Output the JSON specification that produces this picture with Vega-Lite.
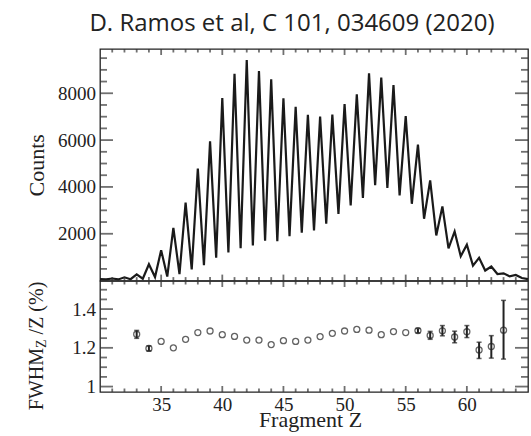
{
  "$schema": "https://vega.github.io/schema/vega-lite/v6.json",
  "padding": {"left": 24, "top": 12, "right": 2, "bottom": 2},
  "title": {"text": "D. Ramos et al, C 101, 034609 (2020)", "font": "Open Sans", "fontSize": 24, "fontWeight": "normal", "color": "#222", "anchor": "middle", "offset": 12, "dx": 13},
  "datasets": {
    "hist": [
      {"Z": 30.0, "C": 60}, {"Z": 30.5, "C": 50}, {"Z": 31.0, "C": 90}, {"Z": 31.5, "C": 50},
      {"Z": 32.0, "C": 140}, {"Z": 32.5, "C": 60}, {"Z": 33.0, "C": 270}, {"Z": 33.5, "C": 80},
      {"Z": 34.0, "C": 700}, {"Z": 34.5, "C": 150}, {"Z": 35.0, "C": 1300}, {"Z": 35.5, "C": 170},
      {"Z": 36.0, "C": 2250}, {"Z": 36.5, "C": 280}, {"Z": 37.0, "C": 3330}, {"Z": 37.5, "C": 480},
      {"Z": 38.0, "C": 4780}, {"Z": 38.5, "C": 660}, {"Z": 39.0, "C": 5950}, {"Z": 39.5, "C": 980},
      {"Z": 40.0, "C": 7800}, {"Z": 40.5, "C": 1200}, {"Z": 41.0, "C": 8830}, {"Z": 41.5, "C": 1380},
      {"Z": 42.0, "C": 9420}, {"Z": 42.5, "C": 1500}, {"Z": 43.0, "C": 8950}, {"Z": 43.5, "C": 1700},
      {"Z": 44.0, "C": 8600}, {"Z": 44.5, "C": 1680}, {"Z": 45.0, "C": 7790}, {"Z": 45.5, "C": 1900},
      {"Z": 46.0, "C": 7420}, {"Z": 46.5, "C": 2050}, {"Z": 47.0, "C": 7080}, {"Z": 47.5, "C": 2140},
      {"Z": 48.0, "C": 7000}, {"Z": 48.5, "C": 2430}, {"Z": 49.0, "C": 7090}, {"Z": 49.5, "C": 2850},
      {"Z": 50.0, "C": 7540}, {"Z": 50.5, "C": 3210}, {"Z": 51.0, "C": 7950}, {"Z": 51.5, "C": 3530},
      {"Z": 52.0, "C": 8850}, {"Z": 52.5, "C": 4070}, {"Z": 53.0, "C": 8670}, {"Z": 53.5, "C": 3960},
      {"Z": 54.0, "C": 8350}, {"Z": 54.5, "C": 3640}, {"Z": 55.0, "C": 7030}, {"Z": 55.5, "C": 3280},
      {"Z": 56.0, "C": 5810}, {"Z": 56.5, "C": 2640}, {"Z": 57.0, "C": 4280}, {"Z": 57.5, "C": 1930},
      {"Z": 58.0, "C": 3170}, {"Z": 58.5, "C": 1380}, {"Z": 59.0, "C": 2100}, {"Z": 59.5, "C": 1040},
      {"Z": 60.0, "C": 1530}, {"Z": 60.5, "C": 640}, {"Z": 61.0, "C": 970}, {"Z": 61.5, "C": 430},
      {"Z": 62.0, "C": 600}, {"Z": 62.5, "C": 280}, {"Z": 63.0, "C": 310}, {"Z": 63.5, "C": 180},
      {"Z": 64.0, "C": 240}, {"Z": 64.5, "C": 110}, {"Z": 65.0, "C": 60}
    ],
    "fw": [
      {"Z": 33, "r": 1.270, "lo": 1.249, "hi": 1.290},
      {"Z": 34, "r": 1.197, "lo": 1.184, "hi": 1.210},
      {"Z": 35, "r": 1.233, "lo": null, "hi": null},
      {"Z": 36, "r": 1.200, "lo": null, "hi": null},
      {"Z": 37, "r": 1.244, "lo": null, "hi": null},
      {"Z": 38, "r": 1.279, "lo": null, "hi": null},
      {"Z": 39, "r": 1.287, "lo": null, "hi": null},
      {"Z": 40, "r": 1.268, "lo": null, "hi": null},
      {"Z": 41, "r": 1.259, "lo": null, "hi": null},
      {"Z": 42, "r": 1.240, "lo": null, "hi": null},
      {"Z": 43, "r": 1.240, "lo": null, "hi": null},
      {"Z": 44, "r": 1.217, "lo": null, "hi": null},
      {"Z": 45, "r": 1.237, "lo": null, "hi": null},
      {"Z": 46, "r": 1.233, "lo": null, "hi": null},
      {"Z": 47, "r": 1.240, "lo": null, "hi": null},
      {"Z": 48, "r": 1.258, "lo": null, "hi": null},
      {"Z": 49, "r": 1.275, "lo": null, "hi": null},
      {"Z": 50, "r": 1.287, "lo": null, "hi": null},
      {"Z": 51, "r": 1.295, "lo": null, "hi": null},
      {"Z": 52, "r": 1.291, "lo": null, "hi": null},
      {"Z": 53, "r": 1.268, "lo": null, "hi": null},
      {"Z": 54, "r": 1.284, "lo": null, "hi": null},
      {"Z": 55, "r": 1.279, "lo": null, "hi": null},
      {"Z": 56, "r": 1.289, "lo": 1.277, "hi": 1.300},
      {"Z": 57, "r": 1.264, "lo": 1.244, "hi": 1.285},
      {"Z": 58, "r": 1.288, "lo": 1.262, "hi": 1.315},
      {"Z": 59, "r": 1.256, "lo": 1.226, "hi": 1.286},
      {"Z": 60, "r": 1.283, "lo": 1.253, "hi": 1.315},
      {"Z": 61, "r": 1.189, "lo": 1.145, "hi": 1.229},
      {"Z": 62, "r": 1.207, "lo": 1.147, "hi": 1.263},
      {"Z": 63, "r": 1.291, "lo": 1.142, "hi": 1.445}
    ],
    "xMaj": [{"v": 35}, {"v": 40}, {"v": 45}, {"v": 50}, {"v": 55}, {"v": 60}],
    "xMin": [{"v": 31}, {"v": 32}, {"v": 33}, {"v": 34}, {"v": 36}, {"v": 37}, {"v": 38}, {"v": 39}, {"v": 41}, {"v": 42}, {"v": 43}, {"v": 44}, {"v": 46}, {"v": 47}, {"v": 48}, {"v": 49}, {"v": 51}, {"v": 52}, {"v": 53}, {"v": 54}, {"v": 56}, {"v": 57}, {"v": 58}, {"v": 59}, {"v": 61}, {"v": 62}, {"v": 63}, {"v": 64}],
    "cMaj": [{"v": 2000}, {"v": 4000}, {"v": 6000}, {"v": 8000}],
    "cMin": [{"v": 500}, {"v": 1000}, {"v": 1500}, {"v": 2500}, {"v": 3000}, {"v": 3500}, {"v": 4500}, {"v": 5000}, {"v": 5500}, {"v": 6500}, {"v": 7000}, {"v": 7500}, {"v": 8500}, {"v": 9000}, {"v": 9500}],
    "rMaj": [{"v": 1}, {"v": 1.2}, {"v": 1.4}],
    "rMin": [{"v": 1.05}, {"v": 1.1}, {"v": 1.15}, {"v": 1.25}, {"v": 1.3}, {"v": 1.35}, {"v": 1.45}, {"v": 1.5}]
  },
  "vconcat": [
    {
      "width": 428,
      "height": 231.6,
      "resolve": {"axis": {"x": "independent", "y": "independent"}},
      "layer": [
        {
          "data": {"name": "hist"},
          "mark": {"type": "line", "color": "#1a1a1a", "strokeWidth": 2.2},
          "encoding": {
            "x": {"field": "Z", "type": "quantitative", "scale": {"domain": [30, 65], "nice": false, "zero": false},
                  "axis": {"orient": "bottom", "values": [35, 40, 45, 50, 55, 60], "labels": false, "title": null}},
            "y": {"field": "C", "type": "quantitative", "scale": {"domain": [0, 9890], "nice": false, "zero": false},
                  "axis": {"orient": "left", "values": [2000, 4000, 6000, 8000], "format": "d", "labelPadding": 4.4, "title": "Counts", "titleFontSize": 22, "titleX": -56.4, "titleBaseline": "alphabetic"}}
          }
        },
        {
          "data": {"name": "cMaj"},
          "mark": {"type": "tick", "orient": "horizontal", "size": 13, "thickness": 1.8, "color": "#333", "xOffset": 6.5},
          "encoding": {
            "x": {"datum": 30, "type": "quantitative", "scale": {"domain": [30, 65], "nice": false, "zero": false}, "axis": null},
            "y": {"field": "v", "type": "quantitative", "scale": {"domain": [0, 9890], "nice": false, "zero": false}, "axis": null}
          }
        },
        {
          "data": {"name": "cMaj"},
          "mark": {"type": "tick", "orient": "horizontal", "size": 13, "thickness": 1.8, "color": "#333", "xOffset": -6.5},
          "encoding": {
            "x": {"datum": 65, "type": "quantitative", "scale": {"domain": [30, 65], "nice": false, "zero": false}, "axis": null},
            "y": {"field": "v", "type": "quantitative", "scale": {"domain": [0, 9890], "nice": false, "zero": false}, "axis": null}
          }
        },
        {
          "data": {"name": "cMin"},
          "mark": {"type": "tick", "orient": "horizontal", "size": 7, "thickness": 1.8, "color": "#333", "xOffset": 3.5},
          "encoding": {
            "x": {"datum": 30, "type": "quantitative", "scale": {"domain": [30, 65], "nice": false, "zero": false}, "axis": null},
            "y": {"field": "v", "type": "quantitative", "scale": {"domain": [0, 9890], "nice": false, "zero": false}, "axis": null}
          }
        },
        {
          "data": {"name": "cMin"},
          "mark": {"type": "tick", "orient": "horizontal", "size": 7, "thickness": 1.8, "color": "#333", "xOffset": -3.5},
          "encoding": {
            "x": {"datum": 65, "type": "quantitative", "scale": {"domain": [30, 65], "nice": false, "zero": false}, "axis": null},
            "y": {"field": "v", "type": "quantitative", "scale": {"domain": [0, 9890], "nice": false, "zero": false}, "axis": null}
          }
        },
        {
          "data": {"name": "xMaj"},
          "mark": {"type": "tick", "orient": "vertical", "size": 6, "thickness": 1.8, "color": "#333", "yOffset": -3},
          "encoding": {
            "x": {"field": "v", "type": "quantitative", "scale": {"domain": [30, 65], "nice": false, "zero": false}, "axis": null},
            "y": {"datum": 0, "type": "quantitative", "scale": {"domain": [0, 9890], "nice": false, "zero": false}, "axis": null}
          }
        },
        {
          "data": {"name": "xMaj"},
          "mark": {"type": "tick", "orient": "vertical", "size": 6, "thickness": 1.8, "color": "#333", "yOffset": 3},
          "encoding": {
            "x": {"field": "v", "type": "quantitative", "scale": {"domain": [30, 65], "nice": false, "zero": false}, "axis": null},
            "y": {"datum": 9890, "type": "quantitative", "scale": {"domain": [0, 9890], "nice": false, "zero": false}, "axis": null}
          }
        },
        {
          "data": {"name": "xMin"},
          "mark": {"type": "tick", "orient": "vertical", "size": 3.5, "thickness": 1.8, "color": "#333", "yOffset": -1.75},
          "encoding": {
            "x": {"field": "v", "type": "quantitative", "scale": {"domain": [30, 65], "nice": false, "zero": false}, "axis": null},
            "y": {"datum": 0, "type": "quantitative", "scale": {"domain": [0, 9890], "nice": false, "zero": false}, "axis": null}
          }
        },
        {
          "data": {"name": "xMin"},
          "mark": {"type": "tick", "orient": "vertical", "size": 3.5, "thickness": 1.8, "color": "#333", "yOffset": 1.75},
          "encoding": {
            "x": {"field": "v", "type": "quantitative", "scale": {"domain": [30, 65], "nice": false, "zero": false}, "axis": null},
            "y": {"datum": 9890, "type": "quantitative", "scale": {"domain": [0, 9890], "nice": false, "zero": false}, "axis": null}
          }
        }
      ]
    },
    {
      "width": 428,
      "height": 111,
      "resolve": {"axis": {"x": "independent", "y": "independent"}},
      "layer": [
        {
          "data": {"name": "fw"},
          "mark": {"type": "point", "shape": "circle", "filled": false, "size": 36, "stroke": "#222", "strokeWidth": 1.3},
          "encoding": {
            "x": {"field": "Z", "type": "quantitative", "scale": {"domain": [30, 65], "nice": false, "zero": false},
                  "axis": {"orient": "bottom", "values": [35, 40, 45, 50, 55, 60], "labelPadding": 3.8, "title": "Fragment Z", "titleFontSize": 22, "titleX": 210, "titleY": 34.7, "titleBaseline": "alphabetic"}},
            "y": {"field": "r", "type": "quantitative", "scale": {"domain": [0.972, 1.545], "nice": false, "zero": false},
                  "axis": {"orient": "left", "values": [1, 1.2, 1.4], "format": "~g", "labelPadding": 4.4, "title": "FWHM", "titleFontSize": 20, "titleX": -57.7, "titleY": 128.7, "titleAlign": "left", "titleBaseline": "alphabetic", "titleAngle": 270}}
          }
        },
        {
          "data": {"name": "fw"},
          "transform": [{"filter": "datum.lo != null"}],
          "mark": {"type": "errorbar", "ticks": {"size": 5, "thickness": 1.5}, "thickness": 2, "color": "#222"},
          "encoding": {
            "x": {"field": "Z", "type": "quantitative", "scale": {"domain": [30, 65], "nice": false, "zero": false}, "axis": null},
            "y": {"field": "lo", "type": "quantitative", "scale": {"domain": [0.972, 1.545], "nice": false, "zero": false}, "axis": null},
            "y2": {"field": "hi"}
          }
        },
        {
          "data": {"name": "rMaj"},
          "mark": {"type": "tick", "orient": "horizontal", "size": 13, "thickness": 1.8, "color": "#333", "xOffset": 6.5},
          "encoding": {
            "x": {"datum": 30, "type": "quantitative", "scale": {"domain": [30, 65], "nice": false, "zero": false}, "axis": null},
            "y": {"field": "v", "type": "quantitative", "scale": {"domain": [0.972, 1.545], "nice": false, "zero": false}, "axis": null}
          }
        },
        {
          "data": {"name": "rMaj"},
          "mark": {"type": "tick", "orient": "horizontal", "size": 13, "thickness": 1.8, "color": "#333", "xOffset": -6.5},
          "encoding": {
            "x": {"datum": 65, "type": "quantitative", "scale": {"domain": [30, 65], "nice": false, "zero": false}, "axis": null},
            "y": {"field": "v", "type": "quantitative", "scale": {"domain": [0.972, 1.545], "nice": false, "zero": false}, "axis": null}
          }
        },
        {
          "data": {"name": "rMin"},
          "mark": {"type": "tick", "orient": "horizontal", "size": 7, "thickness": 1.8, "color": "#333", "xOffset": 3.5},
          "encoding": {
            "x": {"datum": 30, "type": "quantitative", "scale": {"domain": [30, 65], "nice": false, "zero": false}, "axis": null},
            "y": {"field": "v", "type": "quantitative", "scale": {"domain": [0.972, 1.545], "nice": false, "zero": false},
                  "axis": {"orient": "left", "values": [], "labels": false, "title": "Z", "titleFontSize": 14, "titleX": -54.2, "titleY": 66.5, "titleAlign": "left", "titleBaseline": "alphabetic", "titleAngle": 270}}
          }
        },
        {
          "data": {"name": "rMin"},
          "mark": {"type": "tick", "orient": "horizontal", "size": 7, "thickness": 1.8, "color": "#333", "xOffset": -3.5},
          "encoding": {
            "x": {"datum": 65, "type": "quantitative", "scale": {"domain": [30, 65], "nice": false, "zero": false}, "axis": null},
            "y": {"field": "v", "type": "quantitative", "scale": {"domain": [0.972, 1.545], "nice": false, "zero": false},
                  "axis": {"orient": "left", "values": [], "labels": false, "title": "/Z (%)", "titleFontSize": 20, "titleX": -57.7, "titleY": 52.9, "titleAlign": "left", "titleBaseline": "alphabetic", "titleAngle": 270}}
          }
        },
        {
          "data": {"name": "xMaj"},
          "mark": {"type": "tick", "orient": "vertical", "size": 6, "thickness": 1.8, "color": "#333", "yOffset": -3},
          "encoding": {
            "x": {"field": "v", "type": "quantitative", "scale": {"domain": [30, 65], "nice": false, "zero": false}, "axis": null},
            "y": {"datum": 0.972, "type": "quantitative", "scale": {"domain": [0.972, 1.545], "nice": false, "zero": false}, "axis": null}
          }
        },
        {
          "data": {"name": "xMaj"},
          "mark": {"type": "tick", "orient": "vertical", "size": 6, "thickness": 1.8, "color": "#333", "yOffset": 3},
          "encoding": {
            "x": {"field": "v", "type": "quantitative", "scale": {"domain": [30, 65], "nice": false, "zero": false}, "axis": null},
            "y": {"datum": 1.545, "type": "quantitative", "scale": {"domain": [0.972, 1.545], "nice": false, "zero": false}, "axis": null}
          }
        },
        {
          "data": {"name": "xMin"},
          "mark": {"type": "tick", "orient": "vertical", "size": 3.5, "thickness": 1.8, "color": "#333", "yOffset": -1.75},
          "encoding": {
            "x": {"field": "v", "type": "quantitative", "scale": {"domain": [30, 65], "nice": false, "zero": false}, "axis": null},
            "y": {"datum": 0.972, "type": "quantitative", "scale": {"domain": [0.972, 1.545], "nice": false, "zero": false}, "axis": null}
          }
        },
        {
          "data": {"name": "xMin"},
          "mark": {"type": "tick", "orient": "vertical", "size": 3.5, "thickness": 1.8, "color": "#333", "yOffset": 1.75},
          "encoding": {
            "x": {"field": "v", "type": "quantitative", "scale": {"domain": [30, 65], "nice": false, "zero": false}, "axis": null},
            "y": {"datum": 1.545, "type": "quantitative", "scale": {"domain": [0.972, 1.545], "nice": false, "zero": false}, "axis": null}
          }
        }
      ]
    }
  ],
  "spacing": 0,
  "bounds": "flush",
  "resolve": {"scale": {"x": "independent", "y": "independent"}},
  "config": {
    "view": {"stroke": "#222", "strokeWidth": 1.3},
    "axis": {"domain": false, "grid": false, "ticks": false, "labelFont": "Liberation Serif", "labelFontSize": 19, "labelColor": "#222", "titleFont": "Liberation Serif", "titleFontWeight": "normal", "titleColor": "#222"}
  }
}
